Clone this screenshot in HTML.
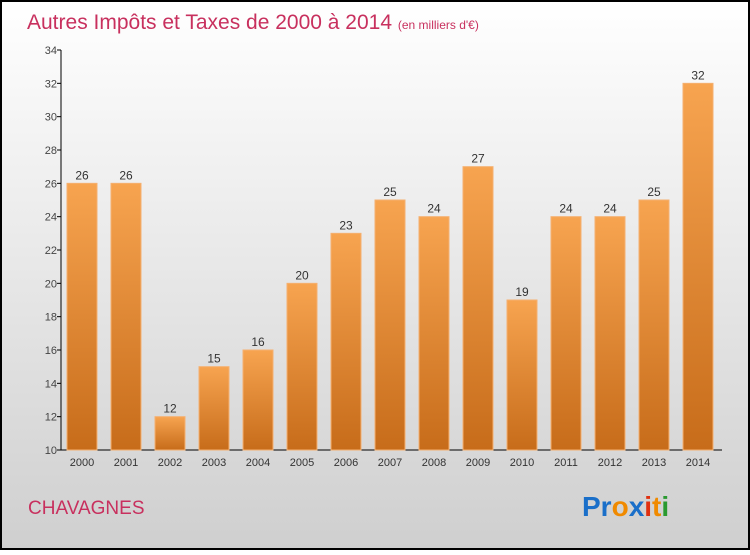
<!DOCTYPE html>
<html><head><meta charset="utf-8"><style>
body{margin:0;width:750px;height:550px;overflow:hidden;font-family:"Liberation Sans",sans-serif}
</style></head><body>
<svg width="750" height="550" xmlns="http://www.w3.org/2000/svg">
<defs>
<linearGradient id="bg" x1="0" y1="0" x2="0" y2="1"><stop offset="0" stop-color="#ffffff"/><stop offset="1" stop-color="#cfcfcf"/></linearGradient>
<linearGradient id="bar" x1="0" y1="0" x2="0" y2="1"><stop offset="0" stop-color="#f7a450"/><stop offset="1" stop-color="#c76c1a"/></linearGradient>
</defs>
<rect x="1" y="1" width="748" height="548" fill="url(#bg)" stroke="#000" stroke-width="2"/>
<text x="27" y="29" font-size="21" fill="#c8305e">Autres Impôts et Taxes de 2000 à 2014 <tspan font-size="12">(en milliers d'€)</tspan></text>
<g id="axes"></g>
<g id="bars"></g>
<text x="28" y="514" font-size="19" fill="#c8305e">CHAVAGNES</text>
<g font-size="28" font-weight="bold">
<text x="582" y="516"><tspan fill="#1a6fc9">Pr</tspan><tspan fill="#f08a00">o</tspan><tspan fill="#1a6fc9">x</tspan><tspan fill="#e03010">i</tspan><tspan fill="#f08a00">t</tspan><tspan fill="#2a9a30">i</tspan></text>
</g>
</svg>
<script>
const years=["2000","2001","2002","2003","2004","2005","2006","2007","2008","2009","2010","2011","2012","2013","2014"];
const values=[26,26,12,15,16,20,23,25,24,27,19,24,24,25,32];
const yTicks=[10,12,14,16,18,20,22,24,26,28,30,32,34];
const NS="http://www.w3.org/2000/svg";
const y0=450,y1=50,vmin=10,vmax=34,xl=61,xr=722;
const ys=v=>y0-(v-vmin)/(vmax-vmin)*(y0-y1);
const step=44, xc=i=>82+i*step;
function mk(tag,attrs,parent){const e=document.createElementNS(NS,tag);for(const k in attrs)e.setAttribute(k,attrs[k]);parent.appendChild(e);return e;}
const ax=document.getElementById('axes'), bg=document.getElementById('bars');
let l=mk('line',{x1:xl,y1:y1,x2:xl,y2:y0,stroke:'#000'},ax);


l=mk('line',{x1:xl,y1:y0,x2:xr,y2:y0,stroke:'#000'},ax);


yTicks.forEach(v=>{
 const y=ys(v);
 const t=mk('line',{x1:xl-4,y1:y,x2:xl,y2:y,stroke:'#000'},ax);
 
 
 const tx=mk('text',{x:xl-4,y:y+4,'font-size':11,fill:'#444','text-anchor':'end'},ax);
 tx.textContent=v;
 
 
});
years.forEach((yr,i)=>{
 const v=values[i],x=xc(i),top=ys(v);
 const r=mk('rect',{x:x-15,y:top,width:30,height:y0-top,fill:'url(#bar)',stroke:'#f5b070','stroke-width':1},bg);
 
 
 const vl=mk('text',{x:x,y:top-4,'font-size':12,fill:'#333','text-anchor':'middle'},bg);
 vl.textContent=v;
 
 
 const xl2=mk('text',{x:x,y:466,'font-size':11,fill:'#333','text-anchor':'middle'},bg);
 xl2.textContent=yr;
 
 
});
</script>
</body></html>
